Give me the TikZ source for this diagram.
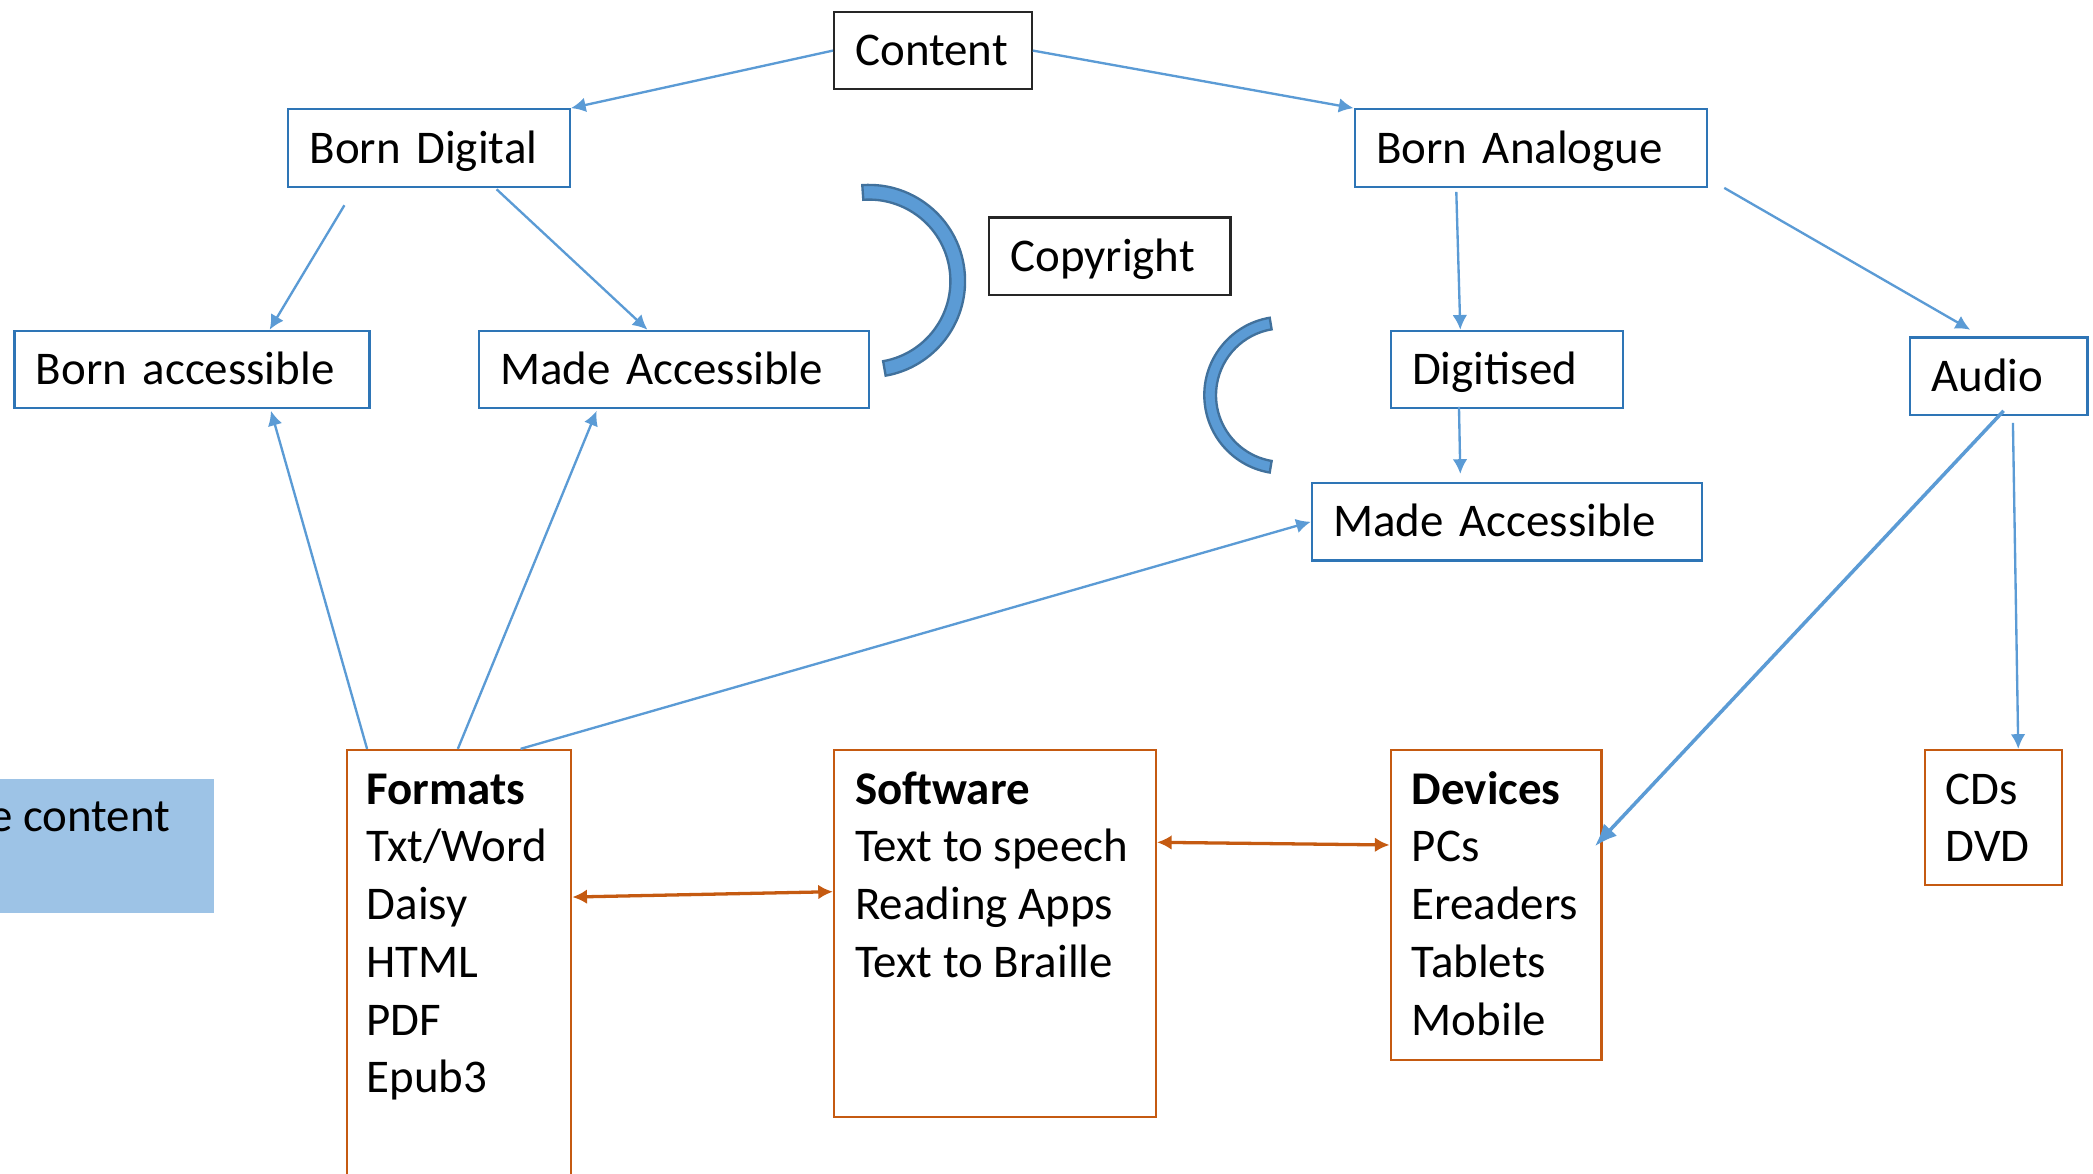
\documentclass[tikz,border=0pt]{standalone}
\usepackage{fontspec}
\setmainfont{Carlito}
\usetikzlibrary{arrows.meta}

\definecolor{lineblue}{HTML}{5B9BD5}
\definecolor{boxblue}{HTML}{2E75B6}
\definecolor{arcedge}{HTML}{41719C}
\definecolor{boxorange}{HTML}{C55A11}
\definecolor{fillblue}{HTML}{9DC3E6}
\definecolor{boxblack}{HTML}{262626}

\begin{document}
\begin{tikzpicture}[>={Latex[length=1.1mm,width=1.1mm]},
	font=\fontsize{10}{12.3}\selectfont,
	box/.style={draw=boxblue,line width=0.5pt,anchor=north west,inner xsep=0.16cm,
		inner ysep=0pt,minimum height=0.58cm,text height=8pt,text depth=1.56pt,align=left},
	blackbox/.style={box,draw=boxblack},
	frame/.style={draw=boxorange,line width=0.5pt,anchor=north west,inner sep=0pt},
	lst/.style={anchor=north west,inner sep=0pt,align=left},
	arr/.style={->,draw=lineblue,line width=0.5pt},
	arrthick/.style={-{Latex[length=1.7mm,width=1.35mm]},draw=lineblue,line width=0.75pt},
	dbl/.style={<->,draw=boxorange,line width=0.7pt},
	brk/.style={fill=lineblue,draw=arcedge,line width=0.5pt}]

\useasboundingbox (0,0) rectangle (15.68,-8.79);

% top of the tree
\node[blackbox,text width=1.16cm] (cont) at (6.24,-0.08) {Content};
\node[box,text width=1.79cm] (bd) at (2.15,-0.81) {Born Digital};
\node[box,text width=2.32cm] (ba) at (10.14,-0.81) {Born Analogue};
\node[blackbox,text width=1.49cm] (copy) at (7.40,-1.62) {Copyright};

\node[box,text width=2.34cm] (bacc) at (0.10,-2.47) {Born accessible};
\node[box,text width=2.60cm] (mal) at (3.58,-2.47) {Made Accessible};
\node[box,text width=1.42cm] (dig) at (10.41,-2.47) {Digitised};
\node[box,text width=1.01cm] (aud) at (14.30,-2.52) {Audio};
\node[box,text width=2.60cm] (mar) at (9.82,-3.61) {Made Accessible};

% brackets round the copyright box
\filldraw[brk] (6.51,-2.105) ++(94:0.72) arc[start angle=94,end angle=-80,radius=0.72]
	-- ++(100:0.11) arc[start angle=-80,end angle=94,radius=0.61] -- cycle;
\filldraw[brk] (9.61,-2.96) ++(99.6:0.588) arc[start angle=99.6,end angle=260.4,radius=0.588]
	-- ++(80.4:0.088) arc[start angle=260.4,end angle=99.6,radius=0.50] -- cycle;

% bottom row
\node[fill=fillblue,anchor=north east,inner sep=0pt,minimum width=2.2cm,
	minimum height=1.0cm] (acc) at (1.61,-5.83) {};
\node[anchor=base east,inner sep=0pt] (acctext) at ([xshift=-0.33cm,yshift=-0.40cm]acc.north east) {e content};

\node[frame,minimum width=1.68cm,minimum height=3.4cm] (fmt) at (2.59,-5.61) {};
\node[frame,minimum width=2.41cm,minimum height=2.75cm] (sw) at (6.24,-5.61) {};
\node[frame,minimum width=1.58cm,minimum height=2.32cm] (dev) at (10.41,-5.61) {};
\node[frame,minimum width=1.03cm,minimum height=1.01cm] (cd) at (14.41,-5.61) {};

\node[lst] (fmttext) at ([xshift=0.15cm,yshift=-0.105cm]fmt.north west)
	{\strut\textbf{Formats}\\Txt/Word\\Daisy\\HTML\\PDF\\Epub3};
\node[lst] (swtext) at ([xshift=0.16cm,yshift=-0.105cm]sw.north west)
	{\strut\textbf{Software}\\Text to speech\\Reading Apps\\Text to Braille};
\node[lst] (devtext) at ([xshift=0.16cm,yshift=-0.105cm]dev.north west)
	{\strut\textbf{Devices}\\PCs\\Ereaders\\Tablets\\Mobile};
\node[lst] (cdtext) at ([xshift=0.16cm,yshift=-0.105cm]cd.north west)
	{\strut CDs\\DVD};

% connectors
\draw[arr] (cont.west) -- (bd.north east);
\draw[arr] (cont.east) -- (ba.north west);
\draw[arr] ([xshift=0.43cm,yshift=-0.13cm]bd.south west) -- ([xshift=1.92cm]bacc.north west);
\draw[arr] ([xshift=1.57cm,yshift=-0.01cm]bd.south west) -- ([xshift=1.27cm]mal.north west);
\draw[arr] ([xshift=0.77cm,yshift=-0.03cm]ba.south west) -- ([xshift=0.53cm]dig.north west);
\draw[arr] ([xshift=0.12cm]ba.south east) -- ([xshift=0.46cm,yshift=0.05cm]aud.north west);
\draw[arr] ([xshift=0.52cm,yshift=0.02cm]dig.south west) -- ([xshift=1.12cm,yshift=0.06cm]mar.north west);

\draw[arr] ([xshift=0.16cm]fmt.north west) -- ([xshift=1.93cm,yshift=-0.01cm]bacc.south west);
\draw[arr] ([xshift=0.84cm]fmt.north west) -- ([xshift=0.89cm,yshift=-0.01cm]mal.south west);
\draw[arr] ([xshift=1.31cm]fmt.north west) -- (mar.west);

\draw[arrthick] ([xshift=0.71cm,yshift=0.04cm]aud.south west) -- ([xshift=-0.06cm,yshift=-0.73cm]dev.north east);
\draw[arr] ([xshift=0.78cm,yshift=-0.05cm]aud.south west) -- ([xshift=0.71cm]cd.north west);

\draw[dbl] ([yshift=-1.11cm]fmt.north east) -- ([yshift=-1.07cm]sw.north west);
\draw[dbl] ([yshift=-0.70cm]sw.north east) -- ([yshift=-0.72cm]dev.north west);

\end{tikzpicture}
\end{document}
